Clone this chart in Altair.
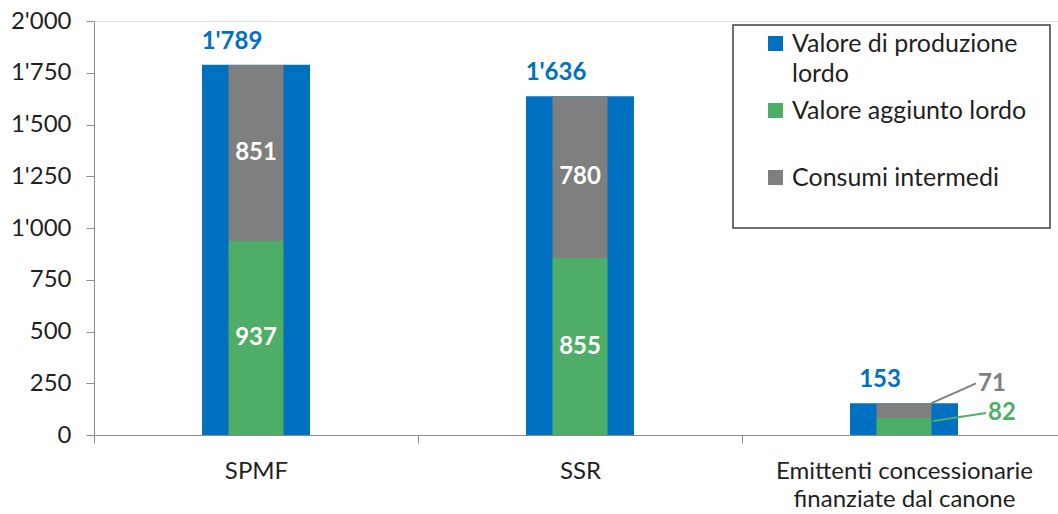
import altair as alt
import pandas as pd

categories = ["SPMF", "SSR", "Emittenti concessionarie|finanziate dal canone"]
produzione = [1789, 1636, 153]
aggiunto = [937, 855, 82]
consumi = [851, 780, 71]
series = ["Valore di produzione lordo", "Valore aggiunto lordo", "Consumi intermedi"]
colors = ["#0070C0", "#4EAE68", "#7F7F7F"]

FONT = "Lato"
TXT = "#1f1f1f"


def fmt(v):
    return f"{v:,}".replace(",", "'")


total_df = pd.DataFrame({
    "cat": categories,
    "value": produzione,
    "series": series[0],
    "label": [fmt(v) for v in produzione],
})

rows = []
for c, g, s in zip(categories, aggiunto, consumi):
    rows.append({"cat": c, "series": series[1], "value": g, "ord": 1, "label": fmt(g)})
    rows.append({"cat": c, "series": series[2], "value": s, "ord": 2, "label": fmt(s)})
stack_df = pd.DataFrame(rows)

x_enc = alt.X(
    "cat:N",
    sort=categories,
    scale=alt.Scale(paddingInner=0, paddingOuter=0, range=[0, 972]),
    axis=alt.Axis(
        title=None,
        labelExpr="split(datum.label, '|')",
        labelAngle=0,
        labelLimit=500,
        tickBand="extent",
        tickSize=8,
        labelPadding=16,
        labelFontSize=24,
        labelLineHeight=28,
        labelColor=TXT,
        labelFont=FONT,
        domainColor="#8C8C8C",
        tickColor="#8C8C8C",
    ),
)

y_scale = alt.Scale(domain=[0, 2000], nice=False)
y_axis = alt.Axis(
    title=None,
    values=list(range(0, 2001, 250)),
    labelExpr="replace(format(datum.value, ','), ',', \"'\")",
    grid=False,
    tickSize=8,
    labelPadding=15,
    labelFontSize=24,
    labelColor=TXT,
    labelFont=FONT,
    domainColor="#8C8C8C",
    tickColor="#8C8C8C",
)

color_scale = alt.Scale(domain=series, range=colors)

legend = alt.Legend(
    title=None,
    orient="none",
    legendX=669,
    legendY=10,
    padding=0,
    symbolType="square",
    symbolSize=225,
    symbolStrokeWidth=0,
    labelFontSize=25,
    labelFont=FONT,
    labelColor=TXT,
    labelLimit=400,
    labelOffset=4,
    labelBaseline="middle",
    rowPadding=11,
    labelExpr="datum.label == 'Valore di produzione lordo' ? ['Valore di produzione', 'lordo'] : [datum.label, '']",
)

blue = alt.Chart(total_df).mark_bar(size=108).encode(
    x=x_enc,
    y=alt.Y("value:Q", scale=y_scale, axis=y_axis),
    color=alt.Color("series:N", scale=color_scale, legend=legend, sort=series),
)

inner = alt.Chart(stack_df).mark_bar(size=55).encode(
    x=alt.X("cat:N", sort=categories),
    y=alt.Y("value:Q", stack="zero"),
    color=alt.Color("series:N", scale=color_scale, sort=series),
    order=alt.Order("ord:Q"),
)

total_labels = alt.Chart(total_df).mark_text(
    font=FONT, fontSize=24, fontWeight="bold", color=colors[0],
    baseline="middle", dy=-23, dx=-24,
).encode(
    x=alt.X("cat:N", sort=categories),
    y=alt.Y("value:Q"),
    text="label:N",
)

inside_labels = alt.Chart(stack_df).transform_filter(
    alt.datum.cat != categories[2]
).transform_stack(
    stack="value", groupby=["cat"], as_=["y0", "y1"], sort=[alt.SortField("ord")]
).transform_calculate(
    mid="(datum.y0 + datum.y1) / 2"
).mark_text(
    font=FONT, fontSize=24, fontWeight="bold", color="white", baseline="middle",
).encode(
    x=alt.X("cat:N", sort=categories),
    y=alt.Y("mid:Q"),
    text="label:N",
)

small = stack_df[stack_df["cat"] == categories[2]]
small_gray = small[small["series"] == series[2]].assign(top=produzione[2])
small_green = small[small["series"] == series[1]]

gray_line = alt.Chart(small_gray).mark_rule(
    color=colors[2], strokeWidth=2, xOffset=27, x2Offset=72, y2Offset=-20,
).encode(
    x=alt.X("cat:N", sort=categories),
    x2="cat:N",
    y="top:Q",
    y2="top:Q",
)
gray_text = alt.Chart(small_gray).mark_text(
    font=FONT, fontSize=24, fontWeight="bold", color=colors[2],
    baseline="middle", dx=88, dy=-19,
).encode(
    x=alt.X("cat:N", sort=categories),
    y="top:Q",
    text="label:N",
)

green_line = alt.Chart(small_green).mark_rule(
    color=colors[1], strokeWidth=2, xOffset=29, x2Offset=82, yOffset=3, y2Offset=-5,
).encode(
    x=alt.X("cat:N", sort=categories),
    x2="cat:N",
    y="value:Q",
    y2="value:Q",
)
green_text = alt.Chart(small_green).mark_text(
    font=FONT, fontSize=24, fontWeight="bold", color=colors[1],
    baseline="middle", dx=98, dy=-5,
).encode(
    x=alt.X("cat:N", sort=categories),
    y="value:Q",
    text="label:N",
)

box = alt.Chart(pd.DataFrame({"k": [0]})).mark_rect(
    fill=None, stroke="#404040", strokeWidth=1.5,
).encode(
    x=alt.value(639), x2=alt.value(956), y=alt.value(4), y2=alt.value(207),
)

chart = alt.layer(
    blue, inner, total_labels, inside_labels,
    gray_line, gray_text, green_line, green_text, box,
).properties(
    width=964,
    height=414,
    autosize=alt.AutoSizeParams(type="none"),
    padding={"left": 94, "top": 21, "right": 0, "bottom": 79},
    background="white",
).configure_view(
    stroke=None
).configure(
    style={"guide-label": {"lineHeight": 30}}
)

chart.save("out.html", embed_options={"renderer": "svg", "actions": False})
